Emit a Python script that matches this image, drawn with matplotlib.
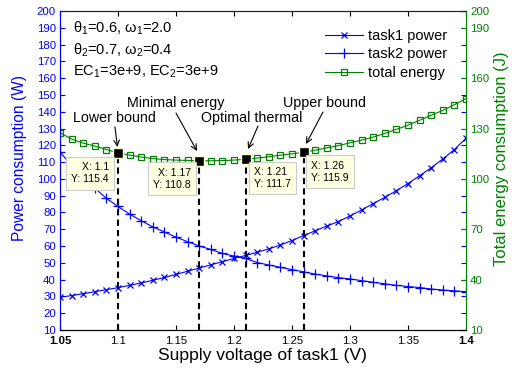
import matplotlib
matplotlib.use('Agg')
import matplotlib.pyplot as plt

plt.rcParams['font.family'] = ['Liberation Sans', 'DejaVu Sans']
plt.rcParams['mathtext.fontset'] = 'custom'
plt.rcParams['mathtext.rm'] = 'Liberation Sans'

# supply voltage of task1 (V), step 0.01
voltage = [1.05, 1.06, 1.07, 1.08, 1.09, 1.10, 1.11, 1.12, 1.13, 1.14, 1.15, 1.16,
           1.17, 1.18, 1.19, 1.20, 1.21, 1.22, 1.23, 1.24, 1.25, 1.26, 1.27, 1.28,
           1.29, 1.30, 1.31, 1.32, 1.33, 1.34, 1.35, 1.36, 1.37, 1.38, 1.39, 1.40]

task1_power = [29.5, 30.5, 31.6, 32.8, 34.0, 35.2, 36.6, 38.0, 39.6, 41.3, 43.1, 45.0,
               46.9, 48.8, 50.7, 52.6, 54.4, 56.3, 58.3, 60.6, 63.3, 66.2, 69.1, 71.9,
               74.6, 77.9, 81.5, 85.3, 89.0, 93.0, 97.2, 101.9, 106.6, 111.9, 117.5, 124.2]

task2_power = [116.0, 108.0, 101.0, 94.5, 88.4, 83.6, 79.0, 75.1, 71.4, 68.4, 65.3, 62.6,
               60.0, 58.0, 55.6, 54.0, 52.6, 50.2, 48.7, 47.3, 46.0, 44.6, 43.3, 42.2,
               41.2, 40.4, 39.4, 38.4, 37.5, 36.6, 35.9, 35.3, 34.4, 33.8, 33.3, 32.8]

total_energy = [127.5, 123.7, 121.3, 119.5, 117.5, 115.4, 114.2, 113.0, 112.1, 111.5, 111.2, 111.0,
                110.8, 110.8, 110.9, 111.2, 111.7, 112.4, 113.2, 114.1, 114.9, 115.9, 117.1, 118.5,
                119.8, 121.5, 123.1, 124.9, 127.1, 129.5, 132.0, 134.9, 137.9, 140.8, 144.2, 147.8]

# data tips: lower bound, minimal energy, optimal thermal, upper bound
tip_x = [1.10, 1.17, 1.21, 1.26]
tip_y = [115.4, 110.8, 111.7, 115.9]
tip_names = ['Lower bound', 'Minimal energy', 'Optimal thermal', 'Upper bound']

blue = '#0000ff'
green = '#008000'

fig = plt.figure(figsize=(5.16, 3.79), dpi=100)
ax = fig.add_axes([60 / 516, 1 - 330 / 379, 406 / 516, 319 / 379])
ax2 = ax.twinx()

l1, = ax.plot(voltage, task1_power, color=blue, lw=0.8, marker='x', ms=5, mew=0.9)
l2, = ax.plot(voltage, task2_power, color=blue, lw=0.8, marker='+', ms=7, mew=0.9)
l3, = ax2.plot(voltage, total_energy, color=green, lw=0.8, marker='s', ms=5,
               mfc='none', mec=green, mew=0.9)

ax.set_xlim(1.05, 1.4)
ax.set_ylim(10, 200)
ax2.set_ylim(10, 200)

ax.set_xticks([1.05, 1.1, 1.15, 1.2, 1.25, 1.3, 1.35, 1.4])
ax.set_xticklabels(['1.05', '1.1', '1.15', '1.2', '1.25', '1.3', '1.35', '1.4'])
xt = ax.get_xticklabels()
xt[0].set_fontweight('bold')
xt[-1].set_fontweight('bold')
ax.set_yticks(range(10, 201, 10))
ax2.set_yticks([10, 40, 70, 100, 130, 160, 190, 200])

ax.tick_params(axis='x', direction='in', top=True, length=3.5, labelsize=8.2, pad=4, colors='black')
ax.tick_params(axis='y', direction='in', right=True, length=3.5, labelsize=8.2, pad=3,
               colors=blue)
ax2.tick_params(axis='y', direction='in', length=3.5, labelsize=8.2, pad=3, colors=green)

ax.spines['left'].set_color(blue)
ax2.spines['left'].set_color(blue)
ax2.spines['right'].set_color(green)
ax.spines['right'].set_visible(False)
for a in (ax, ax2):
    a.spines['top'].set_color('#222222')
    a.spines['bottom'].set_color('black')

ax.set_xlabel('Supply voltage of task1 (V)', fontsize=12.6, labelpad=2)
ax.set_ylabel('Power consumption (W)', fontsize=11.2, color=blue)
ax2.set_ylabel('Total energy consumption (J)', fontsize=12, color=green)
ax.yaxis.set_label_coords(-0.081, 0.538)
ax2.yaxis.set_label_coords(1.069, 0.538)

# vertical dashed lines from each data tip down to the axis
for x, y in zip(tip_x, tip_y):
    ax2.plot([x, x], [10, y], color='black', lw=1.5, ls=(0, (3, 2)))
ax2.plot(tip_x, tip_y, ls='none', marker='s', ms=6.5, mfc='black', mec='#ffffcc', mew=1)

# data tip boxes
tip_offsets = [(-6.5, -6.5), (-6, -5), (6, -5.5), (5.5, -6)]
for x, y, (dx, dy) in zip(tip_x, tip_y, tip_offsets):
    ha = 'right' if dx < 0 else 'left'
    ax2.annotate('X: %g\nY: %.1f' % (x, y), xy=(x, y), xytext=(dx, dy),
                 textcoords='offset points', ha=ha, va='top', fontsize=7.5,
                 multialignment=ha, linespacing=1.3,
                 bbox=dict(boxstyle='square,pad=0.5', fc='#ffffe1', ec='#cccccc', lw=0.8))

# labels with arrows
label_pos = [(1.0966, 136.3), (1.150, 145.2), (1.2155, 136.3), (1.2784, 145.2)]
arrow_start = [(1.0974, 131.0), (1.1500, 139.2), (1.2207, 131.5), (1.2767, 139.8)]
arrow_end = [(1.0995, 119.0), (1.1681, 116.6), (1.2121, 117.8), (1.2621, 120.8)]
for name, p, s, e in zip(tip_names, label_pos, arrow_start, arrow_end):
    ax2.text(p[0], p[1], name, ha='center', va='center', fontsize=10.3)
    ax2.annotate('', xy=e, xytext=s,
                 arrowprops=dict(arrowstyle='->', color='black', lw=0.8,
                                 shrinkA=0, shrinkB=0))

# parameter text
ax2.text(0.032, 0.945, r'θ$_\mathregular{1}$=0.6, ω$_\mathregular{1}$=2.0',
         transform=ax.transAxes, fontsize=10.5, va='center')
ax2.text(0.032, 0.878, r'θ$_\mathregular{2}$=0.7, ω$_\mathregular{2}$=0.4',
         transform=ax.transAxes, fontsize=10.5, va='center')
ax2.text(0.032, 0.811, r'EC$_\mathregular{1}$=3e+9, EC$_\mathregular{2}$=3e+9',
         transform=ax.transAxes, fontsize=10.5, va='center')

ax2.legend([l1, l2, l3], ['task1 power', 'task2 power', 'total energy'],
           loc='upper right', bbox_to_anchor=(0.985, 0.985), frameon=False,
           fontsize=10.5, handlelength=2.6, handletextpad=0.3, labelspacing=0.3)

fig.savefig('out.png', dpi=100)
